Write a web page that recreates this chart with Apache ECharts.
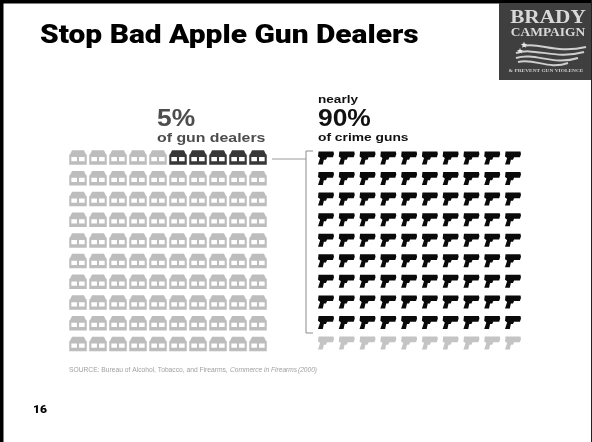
<!DOCTYPE html>
<html><head><meta charset="utf-8">
<style>html,body{margin:0;padding:0;background:#fff}#c{width:592px;height:442px;filter:blur(0.5px)}</style>
<script src="https://cdn.jsdelivr.net/npm/echarts@6/dist/echarts.min.js"></script></head>
<body><div id="c"></div>
<script>
var titleText = 'Stop Bad Apple Gun Dealers';
var pageNumber = '16';
var sourceNote = 'SOURCE: Bureau of Alcohol, Tobacco, and Firearms,';
var sourceBook = 'Commerce in Firearms';
var sourceYear = '(2000)';
var rowNumbers = [1,2,3,4,5,6,7,8,9,10];
var columnNumbers = [1,2,3,4,5,6,7,8,9,10];
// highlighted marks per row (dealers are counted from the right, guns from the left)
var darkDealersPerRow = [5,0,0,0,0,0,0,0,0,0];
var darkGunsPerRow = [10,10,10,10,10,10,10,10,10,0];

var housePath = 'path://M4 0H21L24 5H25V17H0V5H1ZM3 8V13H11V8ZM14 8V13H22V8Z';
var gunPath = 'path://M2 1H30L31 4L29 8H18L16 11H12L10 17H1L5 9L1 7Z';

function cells(perRow, dark, fromRight) {
  var out = [];
  rowNumbers.forEach(function (r, i) {
    columnNumbers.forEach(function (c, j) {
      var isDark = fromRight ? j >= columnNumbers.length - perRow[i] : j < perRow[i];
      if (isDark === dark) out.push([c, r]);
    });
  });
  return out;
}
function hiddenX(i) { return {type:'value',gridIndex:i,min:1,max:10,show:false}; }
function hiddenY(i) { return {type:'value',gridIndex:i,min:1,max:10,inverse:true,show:false}; }
function marks(i, path, size, color, data) {
  return {type:'scatter',xAxisIndex:i,yAxisIndex:i,symbol:path,symbolSize:size,silent:true,animation:false,
    itemStyle:{color:color,opacity:1},data:data};
}
function txt(x,y,s,font,fill,sx,extra){
  return {type:'text',silent:true,x:x,y:y,scaleX:sx||1,style:Object.assign({text:s,font:font,fill:fill,verticalAlign:'middle'},extra||{})};
}
function wave(a,b,c,d,w){
  return {type:'bezierCurve',silent:true,shape:{x1:a[0],y1:a[1],cpx1:b[0],cpy1:b[1],cpx2:c[0],cpy2:c[1],x2:d[0],y2:d[1]},
    style:{stroke:'#cfcfcf',lineWidth:w,fill:null}};
}
function star(cx,cy,r){
  var pts=[];
  for(var k=0;k<10;k++){var a=-Math.PI/2+k*Math.PI/5,q=k%2?r*0.42:r;pts.push([cx+q*Math.cos(a),cy+q*Math.sin(a)]);}
  return {type:'polygon',silent:true,shape:{points:pts},style:{fill:'#e6e6e6'}};
}
var graphics = [
  {type:'rect',silent:true,shape:{x:0,y:0,width:592,height:3.5},style:{fill:'#000'}},
  {type:'rect',silent:true,shape:{x:0,y:0,width:3.5,height:442},style:{fill:'#000'}},
  {type:'rect',silent:true,shape:{x:591,y:0,width:1,height:442},style:{fill:'#222'}},
  {type:'rect',silent:true,shape:{x:499,y:3,width:92,height:77},style:{fill:'#3f3f3f'}},
  txt(548,18,'BRADY','bold 19px "Liberation Serif"','#d8d8d8',1.12,{align:'center'}),
  txt(548,33,'CAMPAIGN','bold 12px "Liberation Serif"','#d8d8d8',1.12,{align:'center'}),
  txt(546,71,'& PREVENT GUN VIOLENCE','bold 4.8px "Liberation Serif"','#d0d0d0',1.12,{align:'center'}),
  wave([523,46],[540,42],[555,54],[586,47],2),
  wave([516,53],[535,47],[555,60],[584,52],2),
  wave([516,58],[535,52],[553,66],[578,58],2),
  wave([518,62],[535,58],[548,70],[568,63],2),
  star(520,51,3.2), star(524,45,3.4),
  txt(40,37,titleText,'900 25px Roboto','#000',1.196),
  txt(157,119,'5%','bold 24px "Liberation Sans"','#4d4d4d',1.1),
  txt(157,138,'of gun dealers','bold 13px "Liberation Sans"','#4d4d4d',1.22),
  txt(318,100,'nearly','bold 11.5px "Liberation Sans"','#111',1.18),
  txt(318,119,'90%','bold 24px "Liberation Sans"','#111',1.1),
  txt(318,138,'of crime guns','bold 11.5px "Liberation Sans"','#111',1.2),
  txt(69,370.5,sourceNote,'6.7px "Liberation Sans"','#a0a0a0'),
  txt(230,370.5,sourceBook,'italic 6.6px "Liberation Sans"','#a0a0a0'),
  txt(298,370.5,sourceYear,'italic 6.6px "Liberation Sans"','#a0a0a0'),
  txt(33,410,pageNumber,'900 11px Roboto','#000',1.1),
  {type:'polyline',silent:true,shape:{points:[[272,159],[306,159]]},style:{stroke:'#9a9a9a',lineWidth:1,fill:null}},
  {type:'polyline',silent:true,shape:{points:[[313,151],[306,151],[306,333],[313,333]]},style:{stroke:'#8c8c8c',lineWidth:1,fill:null}}
];
var chart = echarts.init(document.getElementById('c'), null, {renderer:'canvas'});
chart.setOption({
  backgroundColor:'#fff',animation:false,
  grid:[{left:78,top:157.5,width:180,height:186.5},{left:326,top:158,width:187,height:185}],
  xAxis:[hiddenX(0),hiddenX(1)],yAxis:[hiddenY(0),hiddenY(1)],
  series:[
    marks(0,housePath,[17.5,14.5],'#bdbdbd',cells(darkDealersPerRow,false,true)),
    marks(0,housePath,[17.5,14.5],'#383838',cells(darkDealersPerRow,true,true)),
    marks(1,gunPath,[16,13],'#0a0a0a',cells(darkGunsPerRow,true,false)),
    marks(1,gunPath,[16,13],'#c4c4c4',cells(darkGunsPerRow,false,false))
  ],
  graphic:graphics
});
</script></body></html>
